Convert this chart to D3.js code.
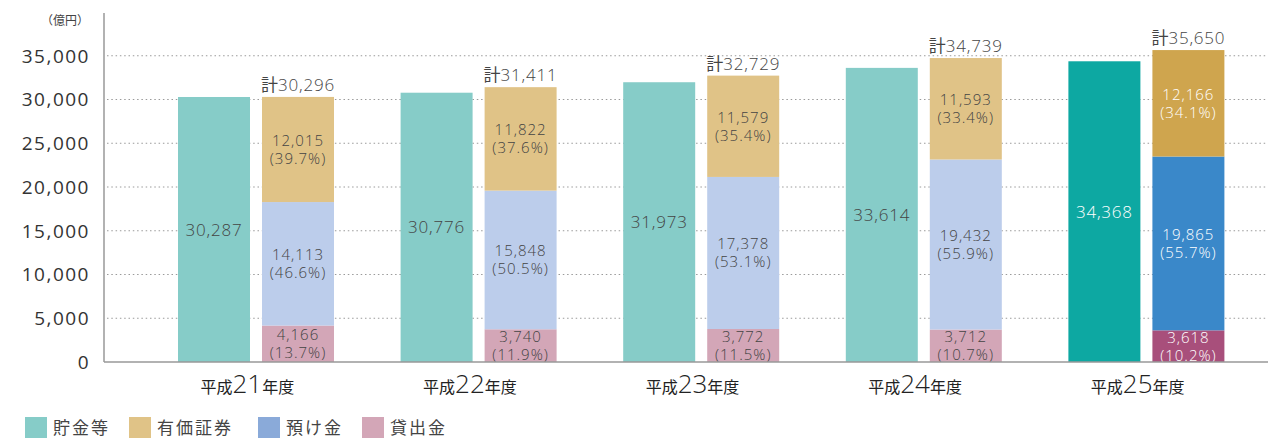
<!DOCTYPE html>
<html><head><meta charset="utf-8">
<script src="https://cdn.jsdelivr.net/npm/d3@7"></script>
<style>
html,body{margin:0;padding:0;background:#fff;}
svg{display:block;font-family:"Noto Sans CJK JP","Noto Sans",sans-serif;}
.num{font-family:"Open Sans","Noto Sans",sans-serif;}
</style></head>
<body>
<svg id="chart" width="1281" height="439"></svg>
<script>
// ---- data ----
const yearNums = ["21", "22", "23", "24", "25"];
const savings = [30287, 30776, 31973, 33614, 34368];
const loans = [4166, 3740, 3772, 3712, 3618];
const deposits = [14113, 15848, 17378, 19432, 19865];
const securities = [12015, 11822, 11579, 11593, 12166];
const totals = [30296, 31411, 32729, 34739, 35650];
const loansPct = ["13.7", "11.9", "11.5", "10.7", "10.2"];
const depositsPct = ["46.6", "50.5", "53.1", "55.9", "55.7"];
const securitiesPct = ["39.7", "37.6", "35.4", "33.4", "34.1"];
const yTicks = [0, 5000, 10000, 15000, 20000, 25000, 30000, 35000];
const legendLabels = ["貯金等", "有価証券", "預け金", "貸出金"];

// ---- styles ----
const light = {sav: "#86CCC8", sec: "#E0C387", dep: "#BCCDEB", loan: "#D3A6B7"};
const dark = {sav: "#0DA8A2", sec: "#CFA54E", dep: "#3A88C9", loan: "#A84F7B"};
const legendColors = ["#86CCC8", "#E0C387", "#8AAAD9", "#D3A6B7"];

const svg = d3.select("#chart");
const y = d3.scaleLinear().domain([0, 40000]).range([362, 12]);
const x0 = d3.scaleBand().domain(yearNums).range([144, 1257]);
const x1 = d3.scaleBand().domain(["sav", "stack"]).range([34, 190]).paddingInner(0.143);
const fmt = d3.format(",");

// grid
svg.append("g").selectAll("line").data(yTicks.filter(d => d > 0)).join("line")
  .attr("x1", 107).attr("x2", 1268)
  .attr("y1", d => y(d)).attr("y2", d => y(d))
  .attr("stroke", "#9a9a9a").attr("stroke-width", 1)
  .attr("stroke-dasharray", "1.5,2.8");

// y tick labels
svg.append("g").selectAll("text").data(yTicks).join("text")
  .attr("class", "num")
  .attr("x", 90).attr("y", d => y(d)).attr("dy", "0.36em")
  .attr("text-anchor", "end").attr("font-size", 19).attr("letter-spacing", 1.5)
  .attr("fill", "#333").text(d => fmt(d));

svg.append("text").attr("x", 89).attr("y", 25).attr("text-anchor", "end")
  .attr("font-size", 12).attr("fill", "#444").text("（億円）");

// bars
const groups = svg.append("g").selectAll("g").data(yearNums).join("g")
  .attr("transform", d => `translate(${x0(d)},0)`);

groups.each(function(yr, i) {
  const g = d3.select(this);
  const c = i === 4 ? dark : light;
  const tcol = i === 4 ? "#fff" : "#444";
  const bw = x1.bandwidth();
  // savings bar
  const sx = x1("sav");
  g.append("rect").attr("x", sx).attr("width", bw)
    .attr("y", y(savings[i])).attr("height", y(0) - y(savings[i])).attr("fill", c.sav);
  g.append("text").attr("class", "num").attr("x", sx + bw / 2).attr("y", (y(savings[i]) + y(0)) / 2)
    .attr("dy", "0.36em").attr("text-anchor", "middle").attr("font-size", 17)
    .attr("letter-spacing", 0.8).attr("font-weight", 300).attr("fill", tcol).text(fmt(savings[i]));
  // stacked
  const tx = x1("stack");
  const segs = [
    {v: loans[i], p: loansPct[i], col: c.loan},
    {v: deposits[i], p: depositsPct[i], col: c.dep},
    {v: securities[i], p: securitiesPct[i], col: c.sec}
  ];
  let base = 0;
  segs.forEach(s => {
    const top = base + s.v;
    g.append("rect").attr("x", tx).attr("width", bw)
      .attr("y", y(top)).attr("height", y(base) - y(top)).attr("fill", s.col);
    const cy = (y(top) + y(base)) / 2;
    const t = g.append("text").attr("class", "num").attr("text-anchor", "middle").attr("font-size", 15)
      .attr("letter-spacing", 1).attr("font-weight", 300).attr("fill", tcol);
    t.append("tspan").attr("x", tx + bw / 2).attr("y", cy - 9).attr("dy", "0.36em").text(fmt(s.v));
    t.append("tspan").attr("x", tx + bw / 2).attr("y", cy + 9).attr("dy", "0.36em").text(`(${s.p}%)`);
    base = top;
  });
  const tt = g.append("text").attr("x", tx + bw / 2).attr("y", y(base) - 6)
    .attr("text-anchor", "middle").attr("fill", "#444");
  tt.append("tspan").attr("font-size", 17).text("計");
  tt.append("tspan").attr("class", "num").attr("font-size", 17).attr("letter-spacing", 0.8)
    .attr("font-weight", 300).text(fmt(totals[i]));
  // category label
  const lab = g.append("text").attr("x", x0.bandwidth() / 2 - 8).attr("y", 393)
    .attr("text-anchor", "middle").attr("fill", "#222");
  lab.append("tspan").attr("font-size", 16).text("平成");
  lab.append("tspan").attr("class", "num").attr("font-size", 26).attr("font-weight", 300).text(yr);
  lab.append("tspan").attr("font-size", 16).text("年度");
});

// axes lines
svg.append("line").attr("x1", 104).attr("x2", 104).attr("y1", 13).attr("y2", y(0))
  .attr("stroke", "#999").attr("stroke-width", 1.5);
svg.append("line").attr("x1", 104).attr("x2", 1268).attr("y1", y(0)).attr("y2", y(0))
  .attr("stroke", "#999").attr("stroke-width", 1.5);

// legend
const lx = [25, 129, 258, 362];
const lg = svg.append("g").selectAll("g").data(legendLabels).join("g")
  .attr("transform", (d, i) => `translate(${lx[i]},417)`);
lg.append("rect").attr("width", 22).attr("height", 21).attr("fill", (d, i) => legendColors[i]);
lg.append("text").attr("x", 28).attr("y", 11).attr("dy", "0.36em")
  .attr("font-size", 17).attr("letter-spacing", 2).attr("fill", "#444").text(d => d);
</script>
</body></html>
